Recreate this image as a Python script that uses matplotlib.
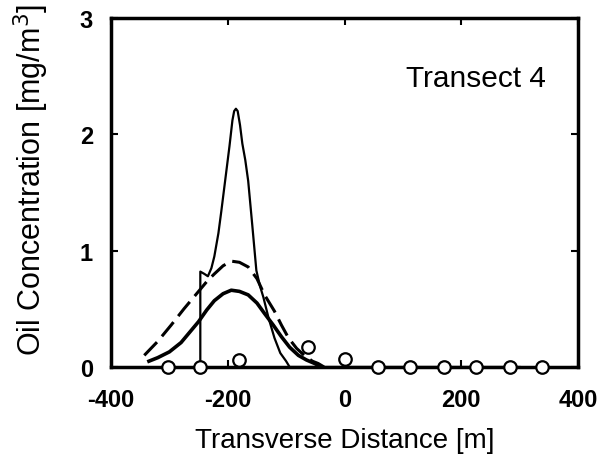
import numpy as np
import matplotlib
matplotlib.use("Agg")
import matplotlib.pyplot as plt

plt.rcParams['font.family'] = ['Liberation Sans', 'DejaVu Sans']

# observed samples
obs_x = [-302, -247, -180, -62, 0, 57, 113, 170, 226, 283, 338]
obs_y = [0.0, 0.0, 0.06, 0.17, 0.07, 0.0, 0.0, 0.0, 0.0, 0.0, 0.0]

# sharp modelled peak
peak_x = [-247, -247, -240, -234, -228, -223, -216, -211, -204, -197, -192, -189, -186, -183, -179, -175, -170, -165, -158, -151, -145, -139, -130, -120, -110, -100, -94, 300]
peak_y = [0.0, 0.82, 0.80, 0.78, 0.85, 0.95, 1.15, 1.34, 1.62, 1.90, 2.12, 2.20, 2.22, 2.20, 2.08, 1.92, 1.78, 1.60, 1.22, 0.83, 0.70, 0.60, 0.42, 0.25, 0.12, 0.05, 0.0, 0.0]

# dashed curve
dash_x = [-343, -320, -297, -275, -250, -235, -223, -208, -194, -180, -165, -150, -137, -120, -108, -96, -82, -69, -55, -45, -35]
dash_y = [0.10, 0.22, 0.36, 0.50, 0.65, 0.74, 0.80, 0.87, 0.91, 0.90, 0.86, 0.76, 0.62, 0.48, 0.36, 0.25, 0.16, 0.10, 0.05, 0.03, 0.0]

# thick smooth curve
smooth_x = [-335, -320, -300, -280, -265, -250, -236, -223, -208, -194, -180, -165, -150, -137, -122, -108, -94, -79, -65, -51, -40]
smooth_y = [0.05, 0.08, 0.13, 0.21, 0.30, 0.39, 0.49, 0.57, 0.63, 0.66, 0.65, 0.62, 0.55, 0.46, 0.36, 0.26, 0.17, 0.10, 0.06, 0.03, 0.0]

fig = plt.figure(figsize=(6.05, 4.56), dpi=100)
ax = fig.add_axes([111/605, (456-368)/456, 467/605, 349/456])

ax.plot(peak_x, peak_y, color='black', lw=1.6)
ax.plot(dash_x, dash_y, color='black', lw=2.2, dashes=(6, 2.5))
ax.plot(smooth_x, smooth_y, color='black', lw=2.6)
ax.plot(obs_x, obs_y, 'o', ms=9, mfc='white', mec='black', mew=1.6, clip_on=False, zorder=5)

ax.text(225, 2.416, 'Transect 4', fontsize=21.5, ha='center', va='baseline')

ax.set_xlim(-400, 400)
ax.set_ylim(0, 3)
ax.set_xticks([-400, -200, 0, 200, 400])
ax.set_xticklabels(['-400', '-200', '0', '200', '400'])
ax.set_yticks([0, 1, 2, 3])
ax.set_yticklabels(['0', '1', '2', '3'])
ax.tick_params(direction='in', top=True, right=True, length=5, width=1.5, labelsize=17)
ax.tick_params(axis='x', pad=15)
ax.tick_params(axis='y', pad=13)
for lab in ax.get_xticklabels() + ax.get_yticklabels():
    lab.set_fontweight('bold')
for s in ax.spines.values():
    s.set_linewidth(2.5)

ax.set_xlabel('Transverse Distance [m]', fontsize=20, labelpad=12)
ax.set_ylabel('Oil Concentration [mg/m$^3$]', fontsize=22)
ax.yaxis.set_label_coords(-0.129, 0.539)

fig.savefig('out.png', dpi=100)
